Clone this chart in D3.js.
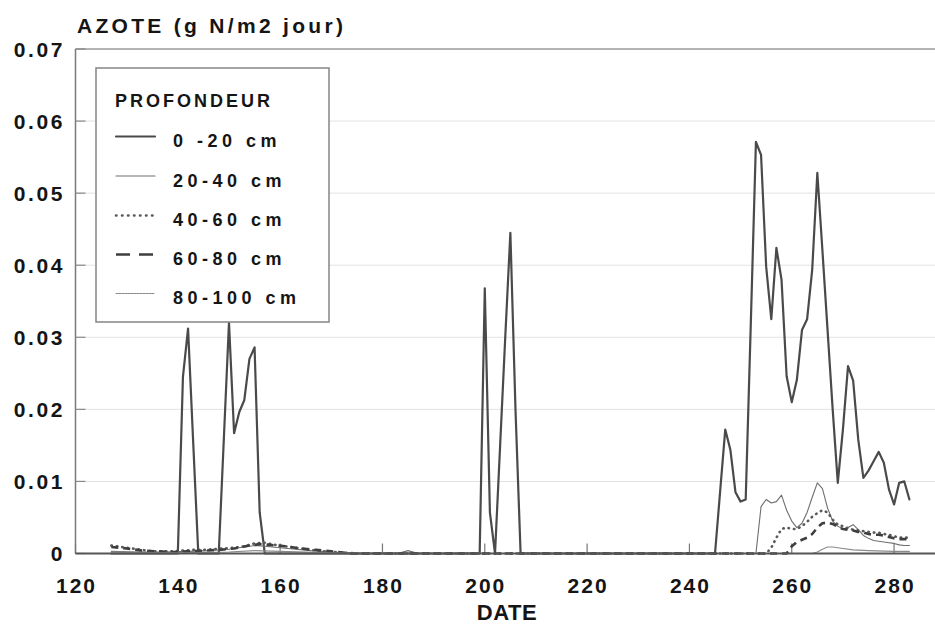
<!DOCTYPE html>
<html><head><meta charset="utf-8">
<script src="https://cdn.jsdelivr.net/npm/d3@7"></script>
<style>
body{margin:0;background:#fff}
svg{display:block}
text{font-family:"Liberation Sans",Arial,Helvetica,sans-serif;fill:#151515}
</style>
</head><body>
<svg id="chart" width="935" height="625"></svg>
<script>
// ---------- DATA ----------
const xTicks = [120,140,160,180,200,220,240,260,280];
const yTicks = [0,0.01,0.02,0.03,0.04,0.05,0.06,0.07];
const yTickLabels = ["0","0.01","0.02","0.03","0.04","0.05","0.06","0.07"];
const titleText = "AZOTE (g N/m2 jour)";
const xLabelText = "DATE";
const legendTitle = "PROFONDEUR";
const seriesNames = ["0 -20 cm","20-40 cm","40-60 cm","60-80 cm","80-100 cm"];

const day0_20 = [127,140,141,142,143,144,148,149,150,151,152,153,154,155,156,157,199,200,201,202,203,204,205,206,207,245,246,247,248,249,250,251,252,253,254,255,256,257,258,259,260,261,262,263,264,265,266,267,268,269,270,271,272,273,274,275,276,277,278,279,280,281,282,283];
const val0_20 = [0,0,0.0245,0.0312,0.0155,0,0,0.016,0.032,0.0167,0.0196,0.0213,0.027,0.0286,0.0057,0,0,0.0368,0.0057,0,0.015,0.030,0.0445,0.020,0,0,0.0086,0.0172,0.0144,0.0085,0.0072,0.0075,0.032,0.0571,0.0553,0.0398,0.0325,0.0424,0.038,0.0246,0.021,0.0241,0.031,0.0325,0.0394,0.0528,0.042,0.031,0.020,0.0098,0.0172,0.026,0.024,0.0158,0.0105,0.0115,0.0128,0.0141,0.0126,0.0089,0.0068,0.0098,0.010,0.0075];

const day20_40 = [127,132,137,142,146,150,153,155,157,160,163,166,170,176,183,185,187,253,254,255,256,257,258,259,260,261,262,263,264,265,266,267,268,269,270,271,272,273,274,275,276,277,278,279,280,281,282,283];
const val20_40 = [0.0003,0.0002,0.0002,0.0003,0.0004,0.0006,0.0009,0.0011,0.001,0.0008,0.0006,0.0004,0.0002,0,0,0.0004,0,0,0.0065,0.0075,0.007,0.0072,0.0081,0.006,0.0045,0.0036,0.0042,0.0057,0.0078,0.0098,0.009,0.0063,0.0045,0.0038,0.0034,0.0036,0.004,0.0033,0.0025,0.0021,0.0018,0.0017,0.0016,0.0015,0.0014,0.0012,0.0011,0.0011];

const day40_60 = [127,129,131,133,135,137,139,141,143,145,147,149,151,153,155,157,159,161,163,165,167,169,171,173,175,255,256,257,258,259,260,261,262,263,264,265,266,267,268,269,270,271,272,273,274,275,276,277,278,279,280,281,282,283];
const val40_60 = [0.0011,0.0009,0.0007,0.0005,0.0003,0.0003,0.0003,0.0004,0.0005,0.0005,0.0006,0.0007,0.0008,0.001,0.0014,0.0015,0.0012,0.001,0.0008,0.0006,0.0004,0.0003,0.0002,0.0001,0,0,0.0008,0.0022,0.0034,0.0036,0.0034,0.0034,0.0038,0.0044,0.0051,0.0056,0.006,0.0057,0.0047,0.004,0.0038,0.0035,0.0033,0.0032,0.0031,0.003,0.0029,0.0029,0.0027,0.0026,0.0024,0.0022,0.0022,0.0022];

const day60_80 = [127,130,133,136,139,142,145,148,151,154,156,158,161,164,167,170,174,259,260,261,262,263,264,265,266,267,268,269,270,271,272,273,274,275,276,277,278,279,280,281,282,283];
const val60_80 = [0.0009,0.0007,0.0004,0.0003,0.0002,0.0003,0.0004,0.0005,0.0007,0.0011,0.0013,0.0012,0.001,0.0007,0.0005,0.0003,0,0,0.001,0.0016,0.0019,0.0022,0.0027,0.0036,0.0042,0.0043,0.0041,0.0037,0.0034,0.0033,0.0032,0.003,0.0029,0.0027,0.0026,0.0026,0.0025,0.0023,0.0021,0.002,0.002,0.002];

const day80_100 = [127,140,150,155,160,170,178,264,265,266,267,268,269,270,272,275,280,283];
const val80_100 = [0.0002,0.0001,0.0002,0.0004,0.0003,0.0001,0,0,0.0002,0.0006,0.0009,0.0009,0.0008,0.0007,0.0005,0.0004,0.0003,0.0003];

// ---------- STYLES ----------
const styles = [
  {stroke:"#4a4a4a", width:2.2, dash:null, cap:"round", legendDash:null},
  {stroke:"#6e6e6e", width:1.1, dash:null, cap:"round", legendDash:null},
  {stroke:"#5a5a5a", width:2.6, dash:"0.5,5", cap:"round", legendDash:"0.5,5.5"},
  {stroke:"#3e3e3e", width:2.6, dash:"7,5", cap:"butt", legendDash:"14,9"},
  {stroke:"#8a8a8a", width:1.1, dash:null, cap:"round", legendDash:"2,1"}
];

const seriesData = [
  d3.zip(day0_20, val0_20),
  d3.zip(day20_40, val20_40),
  d3.zip(day40_60, val40_60),
  d3.zip(day60_80, val60_80),
  d3.zip(day80_100, val80_100)
];

// ---------- LAYOUT ----------
const svg = d3.select("#chart");
const x = d3.scaleLinear().domain([120, 288]).range([75.5, 935]);
const y = d3.scaleLinear().domain([0, 0.07]).range([553.5, 49]);

// gridlines
svg.append("g").selectAll("line").data(yTicks.slice(1, -1)).join("line")
  .attr("x1", x(120)).attr("x2", 935)
  .attr("y1", d => y(d)).attr("y2", d => y(d))
  .attr("stroke", "#e2e2e2").attr("stroke-width", 1);

// frame: top line and left axis
svg.append("line").attr("x1", x(120)).attr("x2", 935).attr("y1", y(0.07)).attr("y2", y(0.07))
  .attr("stroke", "#9a9a9a").attr("stroke-width", 1.5);
svg.append("line").attr("x1", x(120)).attr("x2", x(120)).attr("y1", y(0.07)).attr("y2", y(0))
  .attr("stroke", "#7a7a7a").attr("stroke-width", 1.5);

// y ticks (inward)
svg.append("g").selectAll("line").data(yTicks).join("line")
  .attr("x1", x(120)).attr("x2", x(120) + 10)
  .attr("y1", d => y(d)).attr("y2", d => y(d))
  .attr("stroke", "#888").attr("stroke-width", 1.2);
// x ticks (inward)
svg.append("g").selectAll("line").data(xTicks).join("line")
  .attr("x1", d => x(d)).attr("x2", d => x(d))
  .attr("y1", y(0)).attr("y2", y(0) - 10)
  .attr("stroke", "#777").attr("stroke-width", 1.2);

// series lines
const line = d3.line().x(d => x(d[0])).y(d => y(d[1])).curve(d3.curveLinear);
svg.append("g").selectAll("path").data(seriesData).join("path")
  .attr("d", line)
  .attr("fill", "none")
  .attr("stroke", (d, i) => styles[i].stroke)
  .attr("stroke-width", (d, i) => styles[i].width)
  .attr("stroke-dasharray", (d, i) => styles[i].dash)
  .attr("stroke-linecap", (d, i) => styles[i].cap)
  .attr("stroke-linejoin", "round");

// bottom axis line
svg.append("line").attr("x1", x(120)).attr("x2", 935).attr("y1", y(0)).attr("y2", y(0))
  .attr("stroke", "#555").attr("stroke-width", 1.8);

// y tick labels
svg.append("g").selectAll("text").data(yTicks).join("text")
  .attr("x", 65).attr("y", d => y(d))
  .attr("dy", "0.36em")
  .attr("text-anchor", "end")
  .style("font-size", "21px").style("font-weight", "bold").style("letter-spacing", "2.6px")
  .text((d, i) => yTickLabels[i]);

// x tick labels
svg.append("g").selectAll("text").data(xTicks).join("text")
  .attr("x", d => x(d) + 1).attr("y", 593)
  .attr("text-anchor", "middle")
  .style("font-size", "21px").style("font-weight", "bold").style("letter-spacing", "2px")
  .text(d => d);

// axis title x
svg.append("text").attr("x", 507).attr("y", 620).attr("text-anchor", "middle")
  .style("font-size", "22px").style("font-weight", "bold").style("letter-spacing", "0.5px")
  .text(xLabelText);

// title
svg.append("text").attr("x", 77).attr("y", 33)
  .style("font-size", "21px").style("font-weight", "bold").style("letter-spacing", "3.3px")
  .text(titleText);

// legend
const lg = svg.append("g");
lg.append("rect").attr("x", 96).attr("y", 68).attr("width", 233).attr("height", 254)
  .attr("fill", "#fff").attr("stroke", "#8c8c8c").attr("stroke-width", 1.6);
lg.append("text").attr("x", 115).attr("y", 107)
  .style("font-size", "18px").style("font-weight", "bold").style("letter-spacing", "3px")
  .text(legendTitle);
const rowY = [147, 186.5, 226, 265, 304];
const items = lg.selectAll("g.item").data(seriesNames).join("g").attr("class", "item");
items.append("line")
  .attr("x1", 116).attr("x2", 155)
  .attr("y1", (d, i) => rowY[i] - 10.5).attr("y2", (d, i) => rowY[i] - 10.5)
  .attr("stroke", (d, i) => styles[i].stroke)
  .attr("stroke-width", (d, i) => styles[i].width)
  .attr("stroke-dasharray", (d, i) => styles[i].legendDash)
  .attr("stroke-linecap", (d, i) => styles[i].cap);
items.append("text")
  .attr("x", 173).attr("y", (d, i) => rowY[i])
  .style("font-size", "18px").style("font-weight", "bold").style("letter-spacing", "4.5px")
  .text(d => d);
</script>
</body></html>
